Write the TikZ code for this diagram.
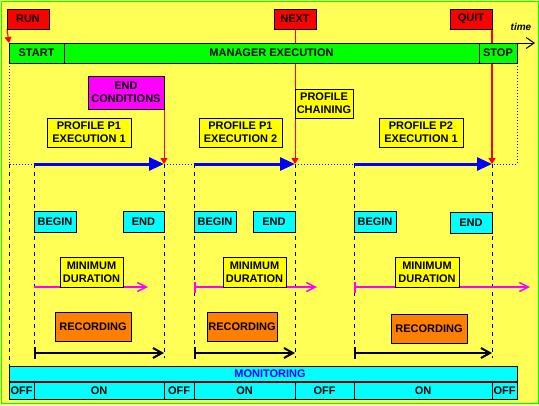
\documentclass[tikz,border=0pt]{standalone}
\usepackage{fontspec}
\setmainfont{Liberation Sans}
\usetikzlibrary{arrows.meta,positioning}
\definecolor{paperyellow}{HTML}{FFFF55}
\definecolor{cmdred}{HTML}{FF0000}
\definecolor{phasegreen}{HTML}{00FF00}
\definecolor{noteyellow}{HTML}{FFFF00}
\definecolor{condmagenta}{HTML}{FF00FF}
\definecolor{edgecyan}{HTML}{00FFFF}
\definecolor{recorange}{HTML}{FF8000}
\definecolor{runblue}{HTML}{0000FF}
\pgfdeclarelayer{paper}
\pgfdeclarelayer{back}
\pgfsetlayers{paper,back,main}
\begin{document}
\begin{tikzpicture}[x=1pt,y=-1pt,
  box/.style={draw,line width=1pt,inner sep=0pt,outer sep=0pt,align=center,font=\bfseries\fontsize{11}{13}\selectfont},
  cmd/.style={box,fill=cmdred,minimum width=42pt,minimum height=20pt},
  phase/.style={box,fill=phasegreen,minimum height=20pt},
  note/.style={box,fill=noteyellow,minimum height=29pt},
  cond/.style={box,fill=condmagenta},
  edgebox/.style={box,fill=edgecyan,minimum height=21pt},
  durbox/.style={box,fill=noteyellow,minimum width=63pt,minimum height=30pt},
  recbox/.style={box,fill=recorange,minimum height=29pt},
  state/.style={box,fill=edgecyan,minimum height=17pt},
  idle/.style={runblue,line width=1pt,dash pattern=on 1pt off 2pt},
  active/.style={runblue,line width=3pt,-{Triangle[length=15pt,width=13pt]}},
  trigger/.style={cmdred,line width=1pt,-{Triangle[length=6pt,width=7pt]}},
  guide/.style={line width=1pt,dash pattern=on 4pt off 4pt},
  minspan/.style={condmagenta,line width=1.5pt,-{Straight Barb[length=9pt,width=9pt]}},
  ticked/.style={{Bar[width=11pt]}-{Straight Barb[length=9pt,width=9pt]}},
  recspan/.style={line width=2pt,{Bar[width=12pt]}-{Straight Barb[length=9pt,width=10pt]}}
]
\useasboundingbox (0,0) rectangle (539,405);
\begin{pgfonlayer}{paper}
\fill[paperyellow] (0,0) rectangle (539,405);
\draw[phasegreen,line width=1pt] (1,1) rectangle (538,403);
\end{pgfonlayer}

\node[cmd] (run) at (28,19) {RUN};
\node[cmd] (next) at (295,19) {NEXT};
\node[cmd] (quit) at (471,19) {QUIT};
\node[phase,minimum width=55pt,anchor=north west] (start) at (9,43) {START};
\node[phase,minimum width=415pt,right=0pt of start] (manager) {MANAGER EXECUTION};
\node[phase,minimum width=38pt,right=0pt of manager] (stop) {STOP};
\node[font=\bfseries\itshape\fontsize{10}{12}\selectfont,inner sep=0pt] (time) at (521,27) {time};
\coordinate (timeend) at (535,43);
\draw[line width=1pt,-{Straight Barb[length=8pt,width=11pt]}] (stop.north east) -- (timeend);

\foreach \n/\x in {t0/9,t1/34,t2/164,t3/194,t4/295,t5/354,t6/492,t7/517} {
  \coordinate (\n) at (\x,164);
  \coordinate (\n r) at (\x,353);
}

\node[cond,minimum width=76pt,minimum height=33pt] (endcond) at (126,92.5) {END\\CONDITIONS};
\node[note,minimum width=84pt] (p1e1) at (89,132.5) {PROFILE P1\\EXECUTION 1};
\node[note,minimum width=83pt] (p1e2) at (240.5,132.5) {PROFILE P1\\EXECUTION 2};
\node[note,minimum width=58pt] (chain) at (324,103.5) {PROFILE\\CHAINING};
\node[note,minimum width=84pt] (p2e1) at (421,132.5) {PROFILE P2\\EXECUTION 1};

\node[edgebox,minimum width=42pt] (begin1) at (55,221.5) {BEGIN};
\node[edgebox,minimum width=41pt] (end1) at (143.5,221.5) {END};
\node[edgebox,minimum width=42pt] (begin2) at (215,221.5) {BEGIN};
\node[edgebox,minimum width=42pt] (end2) at (274,221.5) {END};
\node[edgebox,minimum width=42pt] (begin3) at (375,221.5) {BEGIN};
\node[edgebox,minimum width=42pt] (end3) at (471,222.5) {END};

\node[durbox] (dur1) at (91.5,272) {MINIMUM\\DURATION};
\node[durbox] (dur2) at (254.5,272) {MINIMUM\\DURATION};
\node[durbox,minimum width=64pt] (dur3) at (427,272) {MINIMUM\\DURATION};

\node[recbox,minimum width=76pt] (rec1) at (93,326.5) {RECORDING};
\node[recbox,minimum width=70pt] (rec2) at (242,326.5) {RECORDING};
\node[recbox,minimum width=76pt] (rec3) at (429,328.5) {RECORDING};

\node[state,minimum width=508pt,minimum height=16pt,anchor=north west,text=runblue] (monitor) at (9,366) {\hspace*{14pt}MONITORING};
\node[state,minimum width=25pt,anchor=north west] (off1) at (monitor.south west) {OFF};
\node[state,minimum width=130pt,right=0pt of off1] (on1) {ON};
\node[state,minimum width=30pt,right=0pt of on1] (off2) {OFF};
\node[state,minimum width=101pt,right=0pt of off2] (on2) {ON};
\node[state,minimum width=59pt,right=0pt of on2] (off3) {OFF};
\node[state,minimum width=138pt,right=0pt of off3] (on3) {ON};
\node[state,minimum width=25pt,right=0pt of on3] (off4) {OFF};
\draw[line width=2pt] (monitor.south west) -- (monitor.south east);

\begin{pgfonlayer}{back}
\foreach \t in {t1,t2,t3,t4,t5,t6}
  \draw[guide] (\t) -- ++(0,194);
\draw[guide] (t0) -- ++(0,202);
\draw[idle] (start.south west) -- (t0) -- (t1);
\draw[idle] (stop.south east) -- (t7) -- (t6);
\draw[idle] (t2) -- (t3);
\draw[idle] (t4) -- (t5);
\draw[active] (t1) -- (t2);
\draw[active] (t3) -- (t4);
\draw[active] (t5) -- (t6);
\draw[trigger] (run.south west) -- (start.north west);
\draw[trigger] ([yshift=8pt]endcond.south east) -- (t2);
\draw[trigger] (next.south) -- (t4);
\draw[trigger,line width=2pt] (quit.east) -- (t6);
\draw[minspan] (t1 |- dur1.south) -- ++(114,0);
\draw[minspan,ticked] (t3 |- dur2.south) -- ++(123,0);
\draw[minspan,ticked] (t5 |- dur3.south) -- ++(176,0);
\end{pgfonlayer}
\draw[recspan] (t1r) -- (t2r);
\draw[recspan] (t3r) -- (t4r);
\draw[recspan] (t5r) -- (t6r);
\end{tikzpicture}
\end{document}
